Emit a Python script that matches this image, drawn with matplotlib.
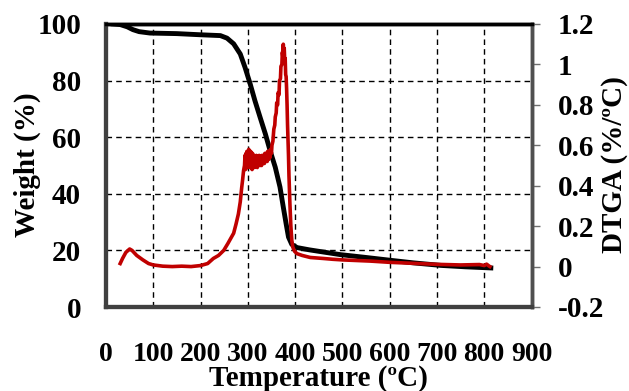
import numpy as np
import matplotlib
matplotlib.use('Agg')
import matplotlib.pyplot as plt

plt.rcParams['font.family'] = ['Liberation Serif', 'DejaVu Serif']
plt.rcParams['font.weight'] = 'bold'

# weight curve (TGA)
temp_w = [15, 30, 45, 57, 70, 93, 150, 199, 242, 256, 270, 284, 294, 305, 315,
          326, 337, 347, 358, 368, 375, 381, 386, 393, 404, 430, 453, 496, 550,
          602, 650, 708, 760, 814]
weight = [100, 99.8, 99, 98, 97.3, 96.8, 96.6, 96.2, 95.9, 95.0, 93, 89.4, 84.7,
          78.8, 72.9, 67, 61.2, 55.3, 49.4, 42.4, 35.3, 29.4, 24.7, 22.1, 21,
          20.2, 19.6, 18.5, 17.5, 16.5, 15.6, 14.7, 14.2, 13.8]

# derivative curve (DTGA)
temp_d = [30, 35, 42, 50, 55, 65, 78, 90, 100, 120, 140, 160, 180, 200, 215,
          227, 238, 249, 258, 264, 270, 275, 280, 284, 287, 289, 291,
          293, 294, 295, 296, 297, 298, 299, 300, 301, 302, 303, 304, 305, 306,
          307, 308, 309, 310, 311, 312, 314, 315, 317, 318, 320, 321, 323, 324,
          326, 327, 329, 330, 332, 333, 335, 336, 338, 339, 341, 342, 344, 345,
          347, 348, 350, 351, 353, 355, 357, 358, 360, 361, 363, 364, 366, 367,
          369, 370, 372, 373, 374, 375, 376, 377, 378, 379, 380, 381, 382, 383,
          384, 386, 387, 389, 391, 393, 395, 399, 404, 415, 432, 460, 480, 500,
          530, 560, 600, 650, 700, 750, 790, 800, 805, 810, 812]
dtga = [0.015, 0.04, 0.07, 0.087, 0.08, 0.055, 0.033, 0.015, 0.008, 0.002, 0.0,
        0.002, 0.0, 0.005, 0.015,
        0.04, 0.055, 0.08, 0.115, 0.14, 0.165, 0.21, 0.26, 0.32, 0.39, 0.43, 0.475,
        0.50, 0.55, 0.48, 0.56, 0.50, 0.57, 0.49, 0.56, 0.51, 0.58, 0.50, 0.55,
        0.49, 0.57, 0.51, 0.54, 0.48, 0.56, 0.50, 0.55, 0.49, 0.54, 0.50, 0.55,
        0.49, 0.54, 0.50, 0.55, 0.50, 0.54, 0.50, 0.55, 0.51, 0.55, 0.51, 0.56,
        0.52, 0.56, 0.52, 0.57, 0.53, 0.57, 0.54, 0.58, 0.56, 0.60,
        0.62, 0.68, 0.70, 0.74, 0.76, 0.81, 0.80, 0.86, 0.85, 0.92, 0.93, 0.99,
        1.00, 1.06, 1.04, 1.10, 1.05, 1.08, 1.02, 1.03, 0.95, 0.94, 0.88, 0.80,
        0.70, 0.55, 0.45, 0.31, 0.20, 0.13, 0.097, 0.075, 0.064, 0.055, 0.045,
        0.04, 0.036, 0.033, 0.03, 0.027, 0.021, 0.016, 0.011, 0.008, 0.01,
        0.005, 0.012, 0.003, 0.0]

x_ticks = [0, 100, 200, 300, 400, 500, 600, 700, 800, 900]
w_ticks = [0, 20, 40, 60, 80, 100]
d_ticks = [-0.2, 0, 0.2, 0.4, 0.6, 0.8, 1, 1.2]
d_labels = ['-0.2', '0', '0.2', '0.4', '0.6', '0.8', '1', '1.2']

W, H = 629, 391
fig = plt.figure(figsize=(W / 100, H / 100), dpi=100)
ax = fig.add_axes([106/W, 1-307/H, 425.5/W, 283/H])
ax2 = ax.twinx()

ax.set_xlim(0, 900)
ax.set_ylim(0, 100)
ax2.set_ylim(-0.2, 1.2)

ax.grid(True, color='black', linestyle=(0, (4, 3)), linewidth=1)
ax.set_axisbelow(True)

ax.plot(temp_w, weight, color='black', linewidth=3.5)
ax2.plot(temp_d, dtga, color='#c00000', linewidth=2.6)

ax.set_xticks(x_ticks)
ax.set_yticks(w_ticks)
ax2.set_yticks(d_ticks)
ax2.set_yticklabels(d_labels)

ax.tick_params(axis='x', length=0, pad=25, labelsize=20)
ax.tick_params(axis='y', length=0, pad=18, labelsize=21)
ax2.tick_params(axis='y', length=5.8, width=1, color='#707070', pad=13, labelsize=21)

for a in (ax, ax2):
    a.spines['top'].set_linewidth(2.5)
    a.spines['top'].set_color('black')
    a.spines['left'].set_linewidth(3)
    a.spines['left'].set_color('#404040')
    a.spines['bottom'].set_linewidth(3)
    a.spines['bottom'].set_color('#404040')
    a.spines['right'].set_linewidth(2.5)
    a.spines['right'].set_color('#505050')

fig.text(318/W, 1-379/H, 'Temperature (ºC)', fontsize=21, fontweight='bold',
         ha='center', va='center')
fig.text(27/W, 1-165/H, 'Weight (%)', fontsize=21, fontweight='bold',
         ha='center', va='center', rotation=90)
fig.text(615/W, 1-165/H, 'DTGA (%/ºC)', fontsize=21, fontweight='bold',
         ha='center', va='center', rotation=90)

fig.savefig('out.png', dpi=100)
